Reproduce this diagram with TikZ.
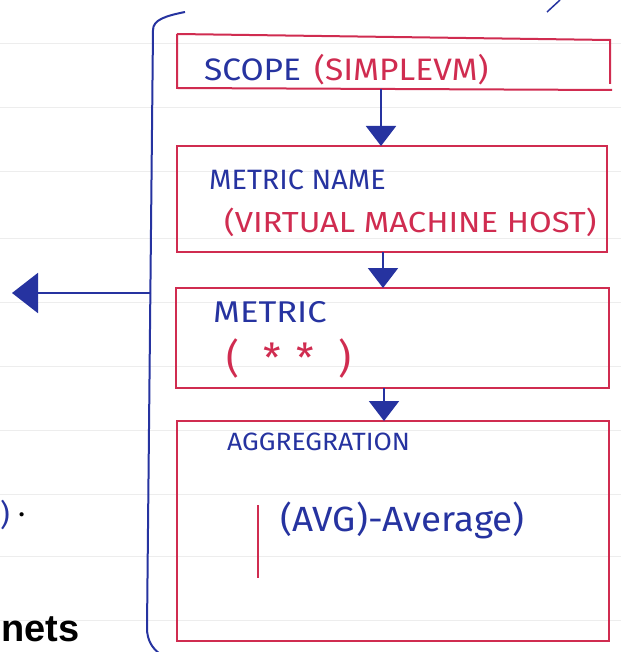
\documentclass[tikz,border=0pt]{standalone}
\usepackage{fontspec}
\usepackage{graphicx}
\setmainfont{Fira Sans}
\newfontfamily\boldsans{Liberation Sans}
\usetikzlibrary{arrows.meta}
\definecolor{ink}{HTML}{2633A0}
\definecolor{redink}{HTML}{D02C50}
\tikzset{
  box/.style={draw=redink, line width=2pt},
  flow/.style={draw=ink, line width=2pt, -{Triangle[width=30pt,length=20pt]}},
  bluetxt/.style={text=ink, anchor=west, inner sep=0pt},
  redtxt/.style={text=redink, anchor=west, inner sep=0pt},
  paper/.style={draw=black!7, line width=1pt}
}
\begin{document}
\begin{tikzpicture}[x=1pt,y=-1pt]
\useasboundingbox (0,0) rectangle (621,652);
\fill[white] (0,0) rectangle (621,652);
% notebook lines
\foreach \yy in {44,108,172,238,302,366,430,494,556,620}
  \draw[paper] (0,\yy) -- (621,\yy);
% boxes
\draw[box] (177,34) -- (610,40) -- (610,84);
\draw[box] (177,34) -- (177,88) -- (612,90);
\draw[box] (177,146) rectangle (607,252);
\draw[box] (176,288) rectangle (609,388);
\draw[box] (177,421) rectangle (609,641);
\coordinate (b1) at (381,89);
\coordinate (b2t) at (381,146);
\coordinate (b2) at (383,252);
\coordinate (b3t) at (383,288);
\coordinate (b3) at (384,388);
\coordinate (b4t) at (384,421);
% bracket
\draw[ink, line width=2pt] (185,12) .. controls (165,16) and (153,20) .. (153,30) -- (147,628) .. controls (147,640) and (152,648) .. (160,654);
\coordinate (br) at (151,293);
\coordinate (lt) at (12,293);
\draw[ink, line width=2pt, -{Triangle[width=40pt,length=26pt]}] (br) -- (lt);
\draw[ink, line width=1.5pt] (547,12) -- (560,0);
% arrows
\draw[flow] (b1) -- (b2t);
\draw[flow] (b2) -- (b3t);
\draw[flow] (b3) -- (b4t);
% texts
\node[bluetxt, font=\fontsize{31}{31}\selectfont] (t1) at (204,70) {\scalebox{1.08}[1]{SCOPE}};
\node[redtxt, font=\fontsize{31}{31}\selectfont] (t1b) at (314,70) {\scalebox{1.08}[1]{(SIMPLEVM)}};
\node[bluetxt, font=\fontsize{28}{28}\selectfont] (t2) at (209,180) {\scalebox{1.03}[1]{METRIC NAME}};
\node[redtxt, font=\fontsize{29}{29}\selectfont] (t2b) at (224,222) {\scalebox{1.13}[1]{(VIRTUAL MACHINE HOST)}};
\node[bluetxt, font=\fontsize{30}{30}\selectfont] (t3) at (213,312) {\scalebox{1.15}[1]{METRIC}};
\node[redtxt, font=\fontsize{40}{40}\selectfont] (t3b) at (226,358) {(\hspace{24pt}*\hspace{16pt}*\hspace{24pt})};
\node[bluetxt, font=\fontsize{25}{25}\selectfont] (t4) at (227,442) {\scalebox{1.06}[1]{AGGREGRATION}};
\node[bluetxt, font=\fontsize{35}{35}\selectfont] (t4b) at (280,520) {\scalebox{1.05}[1]{(AVG)-Average)}};
\draw[redink, line width=2pt] (258,505) -- (258,578);
% left margin fragments
\node[text=ink, anchor=west, inner sep=0pt, font=\fontsize{30}{30}\selectfont] (frag) at (0,515) {)};
\node[anchor=west, inner sep=0pt, font=\fontsize{30}{30}\selectfont] (dot) at (18,515) {.};
\node[anchor=base west, inner sep=0pt, font=\boldsans\bfseries\fontsize{38}{38}\selectfont] (nets) at (1,641) {nets};
\end{tikzpicture}
\end{document}
